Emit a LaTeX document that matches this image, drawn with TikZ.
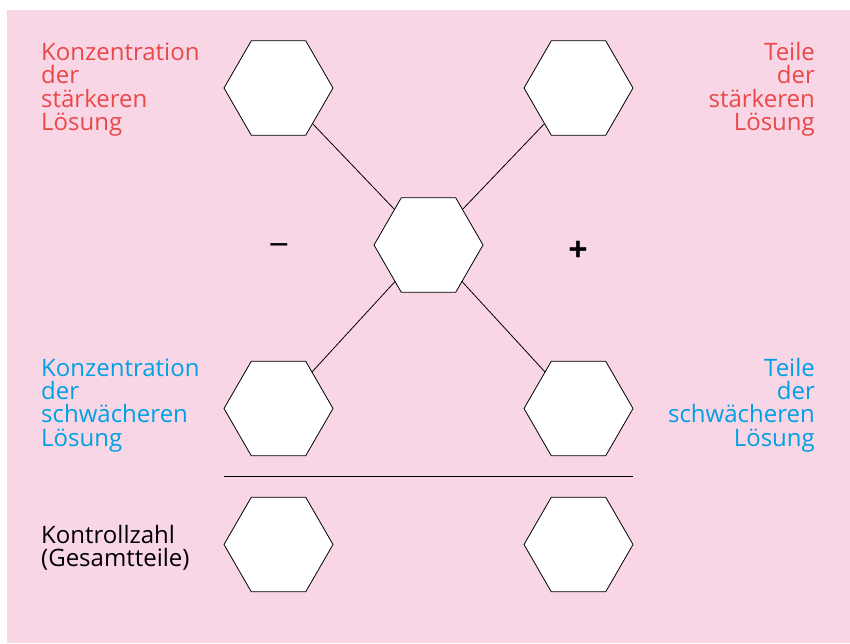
\documentclass[tikz,border=0pt]{standalone}
\usepackage{fontspec}
\setmainfont{Open Sans}
\usetikzlibrary{shapes.geometric,calc,positioning}
\definecolor{kreuzrosa}{RGB}{249,214,230}
\definecolor{kreuzrot}{RGB}{232,72,72}
\definecolor{kreuzblau}{RGB}{0,160,227}

\begin{document}
\begin{tikzpicture}[x=1pt,y=-1pt,
    feld/.style={regular polygon, regular polygon sides=6, draw=black, fill=white,
      line width=0.8pt, minimum size=109pt, inner sep=0pt, outer sep=0pt},
    beschriftung/.style={font=\fontsize{24}{23.3}\selectfont, inner sep=0pt},
    zeichen/.style={font=\fontsize{36}{36}\selectfont, inner sep=0pt}]
    % background panel
    \useasboundingbox (0,0) rectangle (850,643);
    \fill[white] (0,0) rectangle (850,643);
    \fill[kreuzrosa] (7,10) rectangle (850,643);

    % hexagon fields of the mixing cross
    \node[feld] (konzStark)    at (278.5, 88)    {};
    \node[feld] (teileStark)   at (578.5, 88)    {};
    \node[feld] (mitte)        at (428.5, 245)   {};
    \node[feld] (konzSchwach)  at (278.5, 408.5) {};
    \node[feld] (teileSchwach) at (578.5, 408.5) {};
    \node[feld] (kontrolleL)   at (278.5, 544.5) {};
    \node[feld] (kontrolleR)   at (578.5, 544.5) {};

    % diagonals of the cross
    \draw[line width=0.8pt] (mitte) -- (konzStark);
    \draw[line width=0.8pt] (mitte) -- (teileStark);
    \draw[line width=0.8pt] (mitte) -- (konzSchwach);
    \draw[line width=0.8pt] (mitte) -- (teileSchwach);

    % separator above the check sum
    \coordinate (strichL) at ($(konzSchwach.west)!0.5!(kontrolleL.west)$);
    \coordinate (strichR) at ($(teileSchwach.east)!0.5!(kontrolleR.east)$);
    \draw[line width=0.8pt] (strichL) -- (strichR);

    % signs
    \node[zeichen] (minus) at (279, 251) {−};
    \node[zeichen, font=\fontsize{34}{34}\selectfont\bfseries] (plus) at (578, 251) {+};

    % labels (base = baseline of the last line)
    \node[beschriftung, text=kreuzrot, anchor=base west, align=left] (lblKonzStark) at (41, 130.4)
      {Konzentration\\der\\stärkeren\\Lösung};
    \node[beschriftung, text=kreuzrot, anchor=base east, align=right] (lblTeileStark) at (815, 130.4)
      {Teile\\der\\stärkeren\\Lösung};
    \node[beschriftung, text=kreuzblau, anchor=base west, align=left] (lblKonzSchwach) at (41, 446)
      {Konzentration\\der\\schwächeren\\Lösung};
    \node[beschriftung, text=kreuzblau, anchor=base east, align=right] (lblTeileSchwach) at (815, 446)
      {Teile\\der\\schwächeren\\Lösung};
    \node[beschriftung, text=black, anchor=base west, align=left] (lblKontrolle) at (41, 566.3)
      {Kontrollzahl\\(Gesamtteile)};
\end{tikzpicture}
\end{document}
